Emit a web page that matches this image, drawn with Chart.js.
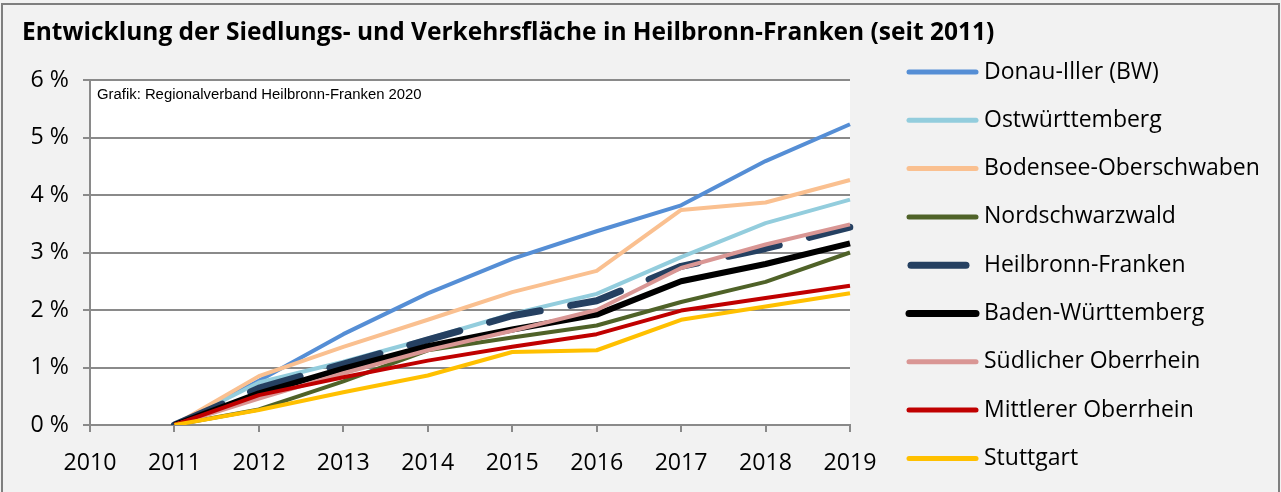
<!DOCTYPE html>
<html lang="de">
<head>
    <meta charset="UTF-8">
    <title>Siedlungs- und Verkehrsfläche Heilbronn-Franken</title>
    <script src="https://cdn.jsdelivr.net/npm/chart.js"></script>
    <style>
        body {
            margin: 0;
            padding: 0;
            background-color: #f2f2f2;
        }
        #wrap {
            width: 1281px;
            height: 492px;
        }
    </style>
</head>
<body>

    <div id="wrap">
        <canvas id="flaecheChart" width="1281" height="492"></canvas>
    </div>

    <script>
        // Jahre (2010 ist nur Achsenbeschriftung, ohne Werte)
        const years = ['2010', '2011', '2012', '2013', '2014', '2015', '2016', '2017', '2018', '2019'];
        const yTicks = [0, 1, 2, 3, 4, 5, 6];

        // Zuwachs in % seit 2011
        const donauIller      = [null, 0, 0.77, 1.58, 2.29, 2.89, 3.37, 3.82, 4.59, 5.23];
        const ostwuerttemberg = [null, 0, 0.74, 1.10, 1.50, 1.93, 2.28, 2.92, 3.51, 3.92];
        const bodensee        = [null, 0, 0.85, 1.36, 1.83, 2.31, 2.68, 3.74, 3.87, 4.26];
        const nordschwarzwald = [null, 0, 0.27, 0.76, 1.30, 1.52, 1.73, 2.14, 2.49, 3.00];
        const heilbronn       = [null, 0, 0.64, 1.06, 1.48, 1.90, 2.16, 2.76, 3.07, 3.44];
        const badenWuertt     = [null, 0, 0.55, 0.98, 1.37, 1.66, 1.92, 2.50, 2.80, 3.16];
        const suedlOberrhein  = [null, 0, 0.46, 0.90, 1.30, 1.64, 2.00, 2.73, 3.14, 3.49];
        const mittlOberrhein  = [null, 0, 0.52, 0.83, 1.12, 1.36, 1.58, 1.99, 2.21, 2.42];
        const stuttgart       = [null, 0, 0.26, 0.57, 0.86, 1.27, 1.30, 1.83, 2.06, 2.29];

        const seriesNames = ['Donau-Iller (BW)', 'Ostwürttemberg', 'Bodensee-Oberschwaben', 'Nordschwarzwald',
            'Heilbronn-Franken', 'Baden-Württemberg', 'Südlicher Oberrhein', 'Mittlerer Oberrhein', 'Stuttgart'];
        const seriesValues = [donauIller, ostwuerttemberg, bodensee, nordschwarzwald,
            heilbronn, badenWuertt, suedlOberrhein, mittlOberrhein, stuttgart];
        const seriesColors = ['#558ed5', '#93cddd', '#fac090', '#4f6228',
            '#254061', '#000000', '#d99694', '#c00000', '#ffc000'];

        const titleText = 'Entwicklung der Siedlungs- und Verkehrsfläche in Heilbronn-Franken (seit 2011)';
        const sourceText = 'Grafik: Regionalverband Heilbronn-Franken 2020';
        const fontName = '"Open Sans", Lato, sans-serif';

        // Schriftgröße so wählen, dass der Text eine bestimmte Breite hat
        const measureCtx = document.createElement('canvas').getContext('2d');
        function fitSize(text, width, weight, family) {
            measureCtx.font = weight + ' 100px ' + family;
            return 100 * width / measureCtx.measureText(text).width;
        }
        const titleSize = fitSize(titleText, 973, 'bold', fontName);
        const legendSize = fitSize('Bodensee-Oberschwaben', 276, 'normal', fontName);
        const tickSize = fitSize('2010', 53, 'normal', fontName);
        const sourceSize = fitSize(sourceText, 325, 'normal', '"Liberation Sans", Arial, sans-serif');

        const datasets = seriesNames.map(function(name, i) {
            const isHF = name === 'Heilbronn-Franken';
            const isBW = name === 'Baden-Württemberg';
            return {
                label: name,
                data: seriesValues[i],
                borderColor: seriesColors[i],
                borderWidth: isHF ? 7 : (isBW ? 6 : 4),
                borderDash: isHF ? [52, 31] : [],
                borderCapStyle: isHF ? 'round' : 'butt',
                borderJoinStyle: 'round',
                pointRadius: 0,
                fill: false,
                tension: 0,
                // Excel: spätere Reihe liegt oben
                order: seriesNames.length - i
            };
        });

        // Hintergrund, Rahmen, Titel, Quelle und Legende
        const decoPlugin = {
            id: 'deco',
            beforeDraw: function(chart) {
                const ctx = chart.ctx;
                const a = chart.chartArea;
                ctx.save();
                ctx.fillStyle = '#f2f2f2';
                ctx.fillRect(0, 0, chart.width, chart.height);
                ctx.fillStyle = '#ffffff';
                ctx.fillRect(a.left, a.top, a.right - a.left, a.bottom - a.top);
                ctx.strokeStyle = '#7f7f7f';
                ctx.lineWidth = 2;
                ctx.strokeRect(2, 4, chart.width - 4, chart.height + 4);
                ctx.restore();
            },
            afterDraw: function(chart) {
                const ctx = chart.ctx;
                const a = chart.chartArea;
                ctx.save();
                ctx.fillStyle = '#000';
                ctx.textBaseline = 'middle';
                ctx.textAlign = 'left';
                ctx.font = 'bold ' + titleSize + 'px ' + fontName;
                ctx.fillText(titleText, 22, 33);

                ctx.font = sourceSize + 'px "Liberation Sans", Arial, sans-serif';
                ctx.fillText(sourceText, a.left + 7, a.top + 15);

                // Legende
                ctx.font = legendSize + 'px ' + fontName;
                chart.data.datasets.forEach(function(ds, i) {
                    const y = 72 + i * 48.3;
                    ctx.beginPath();
                    ctx.strokeStyle = ds.borderColor;
                    ctx.lineCap = 'round';
                    if (ds.label === 'Heilbronn-Franken') {
                        ctx.lineWidth = 7;
                        ctx.moveTo(911, y);
                        ctx.lineTo(966, y);
                    } else {
                        ctx.lineWidth = ds.label === 'Baden-Württemberg' ? 7 : 5;
                        ctx.moveTo(909, y);
                        ctx.lineTo(976, y);
                    }
                    ctx.stroke();
                    ctx.fillStyle = '#000';
                    ctx.fillText(ds.label, 984, y);
                });
                ctx.restore();
            }
        };

        const ctx = document.getElementById('flaecheChart').getContext('2d');
        const flaecheChart = new Chart(ctx, {
            type: 'line',
            data: {
                labels: years,
                datasets: datasets
            },
            plugins: [decoPlugin],
            options: {
                responsive: false,
                animation: false,
                devicePixelRatio: 1,
                layout: {
                    padding: { top: 80, right: 431, bottom: 0, left: 0 }
                },
                plugins: {
                    legend: { display: false },
                    tooltip: { enabled: false }
                },
                scales: {
                    x: {
                        offset: false,
                        grid: {
                            drawOnChartArea: false,
                            drawTicks: true,
                            tickLength: 7,
                            tickColor: '#8a8a8a',
                            lineWidth: 2
                        },
                        border: { display: true, color: '#8a8a8a', width: 2 },
                        ticks: {
                            color: '#000',
                            font: { family: fontName, size: tickSize },
                            padding: 17,
                            maxRotation: 0,
                            autoSkip: false
                        },
                        afterFit: function(scale) { scale.height = 67; }
                    },
                    y: {
                        min: 0,
                        max: 6,
                        afterBuildTicks: function(scale) {
                            scale.ticks = yTicks.map(function(v) { return { value: v }; });
                        },
                        grid: {
                            color: '#8a8a8a',
                            lineWidth: 2,
                            tickLength: 7,
                            tickColor: '#8a8a8a'
                        },
                        border: { display: true, color: '#8a8a8a', width: 2 },
                        ticks: {
                            color: '#000',
                            font: { family: fontName, size: tickSize },
                            padding: 14,
                            callback: function(v) { return v + ' %'; }
                        },
                        afterFit: function(scale) { scale.width = 90; }
                    }
                }
            }
        });
    </script>

</body>
</html>
